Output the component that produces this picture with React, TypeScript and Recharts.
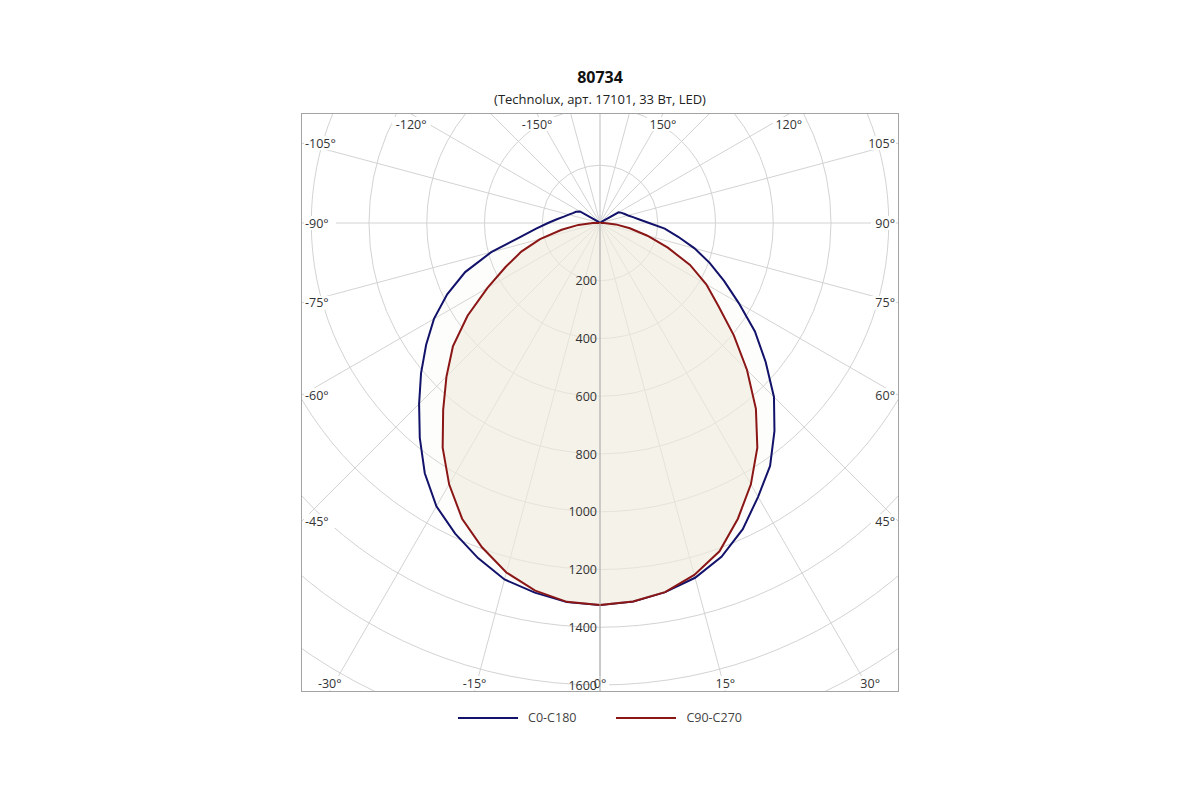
import React from 'react';
import {
  RadarChart,
  Radar,
  PolarGrid,
  PolarAngleAxis,
  PolarRadiusAxis,
  Legend } from
'recharts';

// gamma angles, 0° points down, negative to the left
const angles = [
-180, -175, -170, -165, -160, -155, -150, -145, -140, -135, -130, -125,
-120, -115, -110, -105, -100, -95, -90, -85, -80, -75, -70, -65,
-60, -55, -50, -45, -40, -35, -30, -25, -20, -15, -10, -5,
0, 5, 10, 15, 20, 25, 30, 35, 40, 45, 50, 55,
60, 65, 70, 75, 80, 85, 90, 95, 100, 105, 110, 115,
120, 125, 130, 135, 140, 145, 150, 155, 160, 165, 170, 175,
180];

// luminous intensity, cd/klm
const c0c180 = [
0, 0, 0, 0, 0, 0, 0, 0, 0, 0, 0, 8,
80, 92, 100, 112, 127, 150, 180, 222, 281, 390, 497, 584,
664, 735, 809, 886, 971, 1058, 1133, 1187, 1235, 1278, 1300, 1318,
1323, 1316, 1298, 1272, 1230, 1170, 1095, 1027, 940, 852, 749, 655,
555, 474, 404, 339, 275, 225, 170, 137, 116, 101, 91, 83,
74, 8, 0, 0, 0, 0, 0, 0, 0, 0, 0, 0,
0];

const c90c270 = [
0, 0, 0, 0, 0, 0, 0, 0, 0, 0, 0, 0,
0, 0, 0, 0, 0, 0, 25, 75, 135, 215, 290, 361,
450, 560, 665, 752, 845, 950, 1045, 1130, 1195, 1253, 1293, 1317,
1323, 1316, 1298, 1262, 1210, 1130, 1045, 950, 840, 720, 605, 500,
425, 344, 250, 170, 105, 55, 15, 0, 0, 0, 0, 0,
0, 0, 0, 0, 0, 0, 0, 0, 0, 0, 0, 0,
0];

const seriesNames = ['C0-C180', 'C90-C270'];
const seriesColors = ['#12126a', '#8a1616'];
const hiddenAngleLabels = [-180, -165, -135, 135, 165];
const title = '80734';
const subtitle = '(Technolux, арт. 17101, 33 Вт, LED)';

const data = angles.map((a, i) => ({ angle: a, c0: c0c180[i], c90: c90c270[i] }));

const W = 596;
const H = 577;
const CX = 298;
const CY = 109;
const R_MAX = 2000;
const PX_PER_UNIT = 462 / 1600;

function AngleTick(props: any) {
  const { x, y, payload } = props;
  const v = Math.round(payload.value);
  if (hiddenAngleLabels.includes(v)) return <g />;
  const len = Math.hypot(x - CX, y - CY) || 1;
  const dx = (x - CX) / len;
  const dy = (y - CY) / len;
  let tx = Infinity;
  let ty = Infinity;
  if (Math.abs(dx) > 1e-6) tx = dx > 0 ? (W - CX) / dx : -CX / dx;
  if (Math.abs(dy) > 1e-6) ty = dy > 0 ? (H - CY) / dy : -CY / dy;
  const label = `${v}°`;
  const tw = label.length * 7 + 2;
  let lx, ly, anchor: 'start' | 'middle' | 'end';
  if (ty <= tx) {
    lx = CX + dx * ty;
    ly = dy > 0 ? H - 8 : 10;
    anchor = 'middle';
  } else {
    ly = CY + dy * tx;
    lx = dx > 0 ? W - 3 : 3;
    anchor = dx > 0 ? 'end' : 'start';
  }
  const rx = anchor === 'middle' ? lx - tw / 2 : anchor === 'end' ? lx - tw : lx;
  return (
    <g>
      <rect x={rx - 1} y={ly - 7} width={tw + 2} height={14} fill="#fff" />
      <text x={lx} y={ly} textAnchor={anchor} dominantBaseline="central" fontSize={12.5} fill="#333">
        {label}
      </text>
    </g>);

}

function RadiusTick(props: any) {
  const { x, y, payload } = props;
  if (payload.value <= 0 || payload.value > 1600) return <g />;
  return (
    <text x={x - 3} y={y} textAnchor="end" dominantBaseline="central" fontSize={12.5} fill="#333">
      {payload.value}
    </text>);

}

function renderLegend() {
  return (
    <div style={{ display: 'flex', justifyContent: 'center', alignItems: 'center', fontSize: 12.5, color: '#444' }}>
      {seriesNames.map((name, i) =>
      <div key={name} style={{ display: 'flex', alignItems: 'center', marginRight: i === 0 ? 40 : 0 }}>
          <span style={{ display: 'inline-block', width: 60, height: 2, background: seriesColors[i], marginRight: 10 }} />
          <span>{name}</span>
        </div>
      )}
    </div>);

}

export default function App() {
  return (
    <div
      style={{
        position: 'absolute',
        left: 0,
        top: 0,
        width: 1200,
        height: 800,
        background: '#fff',
        fontFamily: '"Open Sans", sans-serif'
      }}>
      
      <div style={{ position: 'absolute', top: 67, width: 1200, textAlign: 'center', fontSize: 16, lineHeight: '20px', fontWeight: 700, color: '#111' }}>
        {title}
      </div>
      <div style={{ position: 'absolute', top: 90, width: 1200, textAlign: 'center', fontSize: 13, lineHeight: '18px', color: '#222' }}>
        {subtitle}
      </div>
      <div
        style={{
          position: 'absolute',
          left: 301,
          top: 113,
          width: 598,
          height: 579,
          border: '1px solid #a3a3a3',
          boxSizing: 'border-box'
        }}>
        
        <RadarChart
          width={W}
          height={H}
          data={data}
          cx={CX}
          cy={CY}
          innerRadius={0}
          outerRadius={R_MAX * PX_PER_UNIT}
          startAngle={90}
          endAngle={450}
          margin={{ top: 0, right: 0, bottom: 0, left: 0 }}>
          
          <PolarGrid gridType="circle" stroke="#d3d3d3" strokeWidth={1} />
          <PolarAngleAxis
            dataKey="angle"
            type="number"
            domain={[-180, 180]}
            tickCount={25}
            tick={AngleTick}
            tickLine={false}
            axisLine={false} />
          
          <PolarRadiusAxis
            radiusAxisId="up"
            angle={90}
            type="number"
            domain={[0, R_MAX]}
            tick={false}
            tickLine={false}
            axisLine={{ stroke: '#a8a8a8' }} />
          
          <PolarRadiusAxis
            angle={-90}
            type="number"
            domain={[0, R_MAX]}
            tickCount={11}
            tick={RadiusTick}
            tickLine={false}
            axisLine={{ stroke: '#a8a8a8' }} />
          
          <Radar
            name={seriesNames[0]}
            dataKey="c0"
            stroke={seriesColors[0]}
            strokeWidth={2}
            fill="#f0ebe0"
            fillOpacity={0.12}
            dot={false}
            isAnimationActive={false} />
          
          <Radar
            name={seriesNames[1]}
            dataKey="c90"
            stroke={seriesColors[1]}
            strokeWidth={2}
            fill="#f0ebe0"
            fillOpacity={0.6}
            dot={false}
            isAnimationActive={false} />
          
          <Legend
            verticalAlign="bottom"
            content={renderLegend}
            wrapperStyle={{ position: 'absolute', left: 0, top: 595, bottom: 'auto', width: W }} />
          
        </RadarChart>
      </div>
    </div>);

}
